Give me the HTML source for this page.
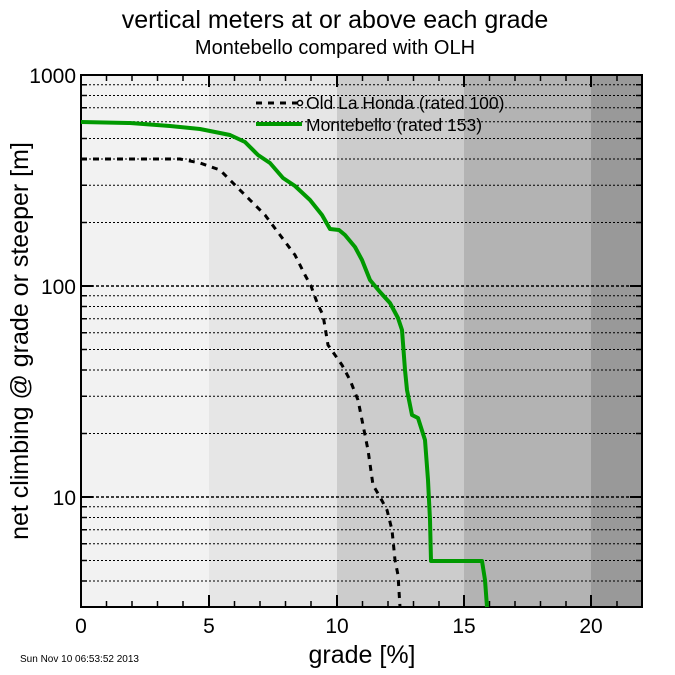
<!DOCTYPE html>
<html><head><style>body{margin:0;background:#fff}svg{display:block}text{font-family:"Liberation Sans",sans-serif}</style></head>
<body>
<svg width="675" height="675" viewBox="0 0 675 675">
<rect x="81" y="75" width="128" height="532" fill="#f2f2f2"/>
<rect x="209" y="75" width="128" height="532" fill="#e6e6e6"/>
<rect x="337" y="75" width="127" height="532" fill="#cccccc"/>
<rect x="464" y="75" width="127" height="532" fill="#b3b3b3"/>
<rect x="591" y="75" width="51" height="532" fill="#999999"/>
<g stroke="#000" stroke-width="1" stroke-dasharray="2,2">
<path d="M81 581H642M81 560.5H642M81 543.8H642M81 529.7H642M81 517.5H642M81 506.7H642M81 433.5H642M81 396.3H642M81 370H642M81 349.5H642M81 332.8H642M81 318.7H642M81 306.5H642M81 295.7H642M81 222.5H642M81 185.3H642M81 159H642M81 138.5H642M81 121.8H642M81 107.7H642M81 95.5H642M81 84.7H642"/>
</g>
<g stroke="#000" stroke-width="1.5" stroke-dasharray="3,2">
<path d="M81 497H642M81 286H642"/>
</g>
<rect x="81" y="75" width="561" height="532" fill="none" stroke="#000" stroke-width="2"/>
<g stroke="#000" stroke-width="2">
<path d="M81 607v-12M209 607v-12M337 607v-12M464 607v-12M591 607v-12M81 75v12M209 75v12M337 75v12M464 75v12M591 75v12"/>
<path d="M81 497h12M81 286h12M642 497h-12M642 286h-12"/>
</g>
<g stroke="#000" stroke-width="1.5">
<path d="M106.5 607v-6M132 607v-6M157.5 607v-6M183 607v-6M234.5 607v-6M260 607v-6M285.5 607v-6M311 607v-6M362.5 607v-6M388 607v-6M413.5 607v-6M439 607v-6M489.5 607v-6M515 607v-6M540.5 607v-6M566 607v-6M617 607v-6
M106.5 75v6M132 75v6M157.5 75v6M183 75v6M234.5 75v6M260 75v6M285.5 75v6M311 75v6M362.5 75v6M388 75v6M413.5 75v6M439 75v6M489.5 75v6M515 75v6M540.5 75v6M566 75v6M617 75v6"/>
<path d="M81 581h6M81 560.5h6M81 543.8h6M81 529.7h6M81 517.5h6M81 506.7h6M81 433.5h6M81 396.3h6M81 370h6M81 349.5h6M81 332.8h6M81 318.7h6M81 306.5h6M81 295.7h6M81 222.5h6M81 185.3h6M81 159h6M81 138.5h6M81 121.8h6M81 107.7h6M81 95.5h6M81 84.7h6
M642 581h-6M642 560.5h-6M642 543.8h-6M642 529.7h-6M642 517.5h-6M642 506.7h-6M642 433.5h-6M642 396.3h-6M642 370h-6M642 349.5h-6M642 332.8h-6M642 318.7h-6M642 306.5h-6M642 295.7h-6M642 222.5h-6M642 185.3h-6M642 159h-6M642 138.5h-6M642 121.8h-6M642 107.7h-6M642 95.5h-6M642 84.7h-6"/>
</g>
<polyline fill="none" stroke="#009900" stroke-width="4" stroke-linejoin="round" points="81,122 130,123 170,126 200,129 230,135 245,142 258,155 270,163 283,178 295,186 310,200 322,215 330,229 339,230 345,235 355,247 362,260 370,280 380,292 390,303 398,318 402,330 405,370 407,390 412,415 418,418 425,440 428,480 430,520 431,561 482,561 485,580 487,607"/>
<polyline fill="none" stroke="#000" stroke-width="3" stroke-dasharray="6,6" points="81,159 180,159 200,163 220,170 235,185 250,200 265,215 280,235 295,255 305,275 311,286 318,305 323,315 328,345 335,355 342,365 350,380 358,400 362,420 368,450 373,485 380,497 387,510 392,530 395,560 398,575 400,607"/>
<line x1="256" y1="103" x2="300" y2="103" stroke="#000" stroke-width="3" stroke-dasharray="6,6"/>
<circle cx="300" cy="103" r="2.5" fill="#fff" stroke="#000" stroke-width="1.5"/>
<line x1="256" y1="124" x2="302" y2="124" stroke="#009900" stroke-width="4"/>
<text x="306" y="109" font-size="17.5">Old La Honda (rated 100)</text>
<text x="306" y="131" font-size="17.5">Montebello (rated 153)</text>
<g font-size="21" text-anchor="middle">
<text x="81" y="633">0</text><text x="209" y="633">5</text><text x="337" y="633">10</text><text x="464" y="633">15</text><text x="591" y="633">20</text>
</g>
<g font-size="21" text-anchor="end">
<text x="76" y="83">1000</text><text x="76" y="294">100</text><text x="76" y="505">10</text>
</g>
<text x="362" y="663" font-size="25" text-anchor="middle">grade [%]</text>
<text transform="translate(28,341) rotate(-90)" font-size="25" text-anchor="middle">net climbing @ grade or steeper [m]</text>
<text x="335" y="28" font-size="25" text-anchor="middle">vertical meters at or above each grade</text>
<text x="335" y="54" font-size="20" text-anchor="middle">Montebello compared with OLH</text>
<text x="20" y="662" font-size="10">Sun Nov 10 06:53:52 2013</text>
</svg>
</body></html>
